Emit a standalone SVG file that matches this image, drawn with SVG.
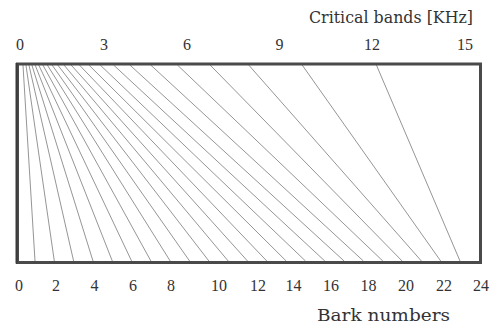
<svg xmlns="http://www.w3.org/2000/svg" width="493" height="330" viewBox="0 0 493 330">
<style>
.num{font-family:"Liberation Serif","DejaVu Serif",serif;font-size:16px;fill:#333;text-anchor:middle}
.ttl{font-family:"DejaVu Serif","Liberation Serif",serif;font-size:16px;fill:#333}
.ln{stroke:#7a7a7a;stroke-width:0.8;fill:none}
</style>
<rect width="493" height="330" fill="#fff"/>
<g id="lines" class="ln">
<line x1="22.97" y1="65" x2="35.0" y2="261"/>
<line x1="25.94" y1="65" x2="54.3" y2="261"/>
<line x1="28.91" y1="65" x2="73.6" y2="261"/>
<line x1="31.88" y1="65" x2="93.0" y2="261"/>
<line x1="35.15" y1="65" x2="112.3" y2="261"/>
<line x1="38.71" y1="65" x2="131.6" y2="261"/>
<line x1="42.87" y1="65" x2="150.9" y2="261"/>
<line x1="47.32" y1="65" x2="170.2" y2="261"/>
<line x1="52.08" y1="65" x2="189.6" y2="261"/>
<line x1="57.72" y1="65" x2="208.9" y2="261"/>
<line x1="63.96" y1="65" x2="228.2" y2="261"/>
<line x1="71.08" y1="65" x2="247.5" y2="261"/>
<line x1="79.4" y1="65" x2="266.8" y2="261"/>
<line x1="88.9" y1="65" x2="286.2" y2="261"/>
<line x1="100.19" y1="65" x2="305.5" y2="261"/>
<line x1="113.56" y1="65" x2="324.8" y2="261"/>
<line x1="129.89" y1="65" x2="344.1" y2="261"/>
<line x1="150.68" y1="65" x2="363.4" y2="261"/>
<line x1="177.41" y1="65" x2="382.8" y2="261"/>
<line x1="210.08" y1="65" x2="402.1" y2="261"/>
<line x1="248.69" y1="65" x2="421.4" y2="261"/>
<line x1="302.15" y1="65" x2="440.7" y2="261"/>
<line x1="376.4" y1="65" x2="460.0" y2="261"/>
</g>
<g id="frame">
<rect x="17.5" y="64" width="463" height="198.5" fill="none" stroke="#4a4a4a" stroke-width="3"/>
<line x1="16.5" y1="63" x2="16.5" y2="263.5" stroke="#3a3a3a" stroke-width="2"/>
</g>
<g id="top-axis">
<text class="ttl" x="473" y="22.5" text-anchor="end" textLength="164" lengthAdjust="spacingAndGlyphs">Critical bands [KHz]</text>
<text class="num" x="20" y="50">0</text>
<text class="num" x="104" y="50">3</text>
<text class="num" x="187" y="50">6</text>
<text class="num" x="279.5" y="50">9</text>
<text class="num" x="372" y="50">12</text>
<text class="num" x="465" y="50">15</text>
</g>
<g id="bottom-axis">
<text class="num" x="19" y="291">0</text>
<text class="num" x="56" y="291">2</text>
<text class="num" x="94.5" y="291">4</text>
<text class="num" x="133" y="291">6</text>
<text class="num" x="171" y="291">8</text>
<text class="num" x="219" y="291">10</text>
<text class="num" x="258" y="291">12</text>
<text class="num" x="293.5" y="291">14</text>
<text class="num" x="331" y="291">16</text>
<text class="num" x="368.5" y="291">18</text>
<text class="num" x="406" y="291">20</text>
<text class="num" x="444" y="291">22</text>
<text class="num" x="481" y="291">24</text>
<text class="ttl" x="317" y="320.5" textLength="133" lengthAdjust="spacingAndGlyphs">Bark numbers</text>
</g>
</svg>
